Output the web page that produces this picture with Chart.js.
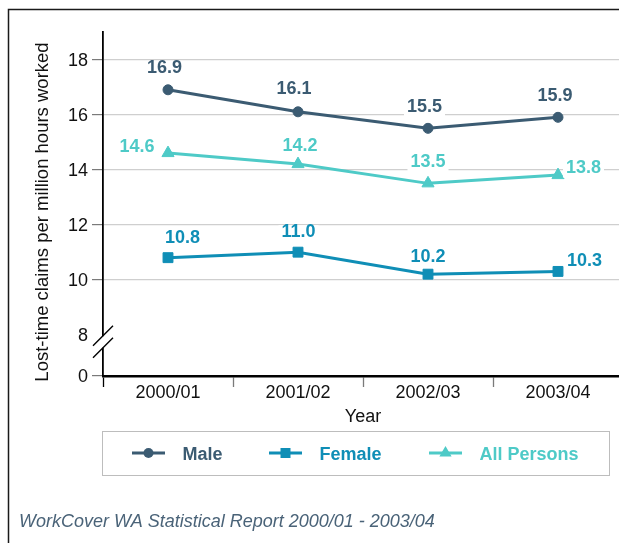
<!DOCTYPE html>
<html>
<head>
<meta charset="utf-8">
<title>Lost-time claims per million hours worked</title>
<script src="https://cdn.jsdelivr.net/npm/chart.js@4.4.1/dist/chart.umd.min.js"></script>
<style>
  html, body { margin: 0; padding: 0; background: #fff; overflow: hidden; }
  #wrap { position: absolute; left: 0; top: 0; width: 640px; height: 543px; }
</style>
</head>
<body>
<div id="wrap"><canvas id="claims"></canvas></div>
<script>
// claims per million hours worked, by financial year
const years = ['2000/01', '2001/02', '2002/03', '2003/04'];
const male = [16.9, 16.1, 15.5, 15.9];
const female = [10.8, 11.0, 10.2, 10.3];
const allPersons = [14.6, 14.2, 13.5, 13.8];
const yTicks = [8, 10, 12, 14, 16, 18];

// the axis is broken: the bottom of the scale is labelled "0"
const AXIS_FLOOR = 6.5;
const AXIS_TOP = 19;

const FONT = '"Liberation Sans", Arial, Helvetica, sans-serif';
const MALE_COLOR = '#3b5b72';
const FEMALE_COLOR = '#0f8eb6';
const ALL_COLOR = '#4ecac7';

function drawMarker(ctx, style, x, y, color) {
  ctx.fillStyle = color;
  ctx.beginPath();
  if (style === 'circle') {
    ctx.arc(x, y, 5, 0, Math.PI * 2);
  } else if (style === 'rect') {
    ctx.rect(x - 5, y - 5, 10, 10);
  } else {
    ctx.moveTo(x, y - 7);
    ctx.lineTo(x - 6.1, y + 3.5);
    ctx.lineTo(x + 6.1, y + 3.5);
    ctx.closePath();
  }
  ctx.fill();
}

// value labels next to each point, on a white patch so grid lines break behind them
const pointLabels = {
  id: 'pointLabels',
  afterDatasetsDraw(chart) {
    const ctx = chart.ctx;
    ctx.save();
    ctx.font = 'bold 18px ' + FONT;
    ctx.textAlign = 'center';
    ctx.textBaseline = 'alphabetic';
    chart.data.datasets.forEach((ds, i) => {
      chart.getDatasetMeta(i).data.forEach((pt, j) => {
        const text = ds.data[j].toFixed(1);
        const [dx, dy] = ds.labelOffsets[j];
        const cx = pt.x + dx;
        const cy = pt.y + dy;
        const w = ctx.measureText(text).width;
        ctx.fillStyle = '#fff';
        ctx.fillRect(cx - w / 2 - 3, cy - 5, w + 6, 16);
        ctx.fillStyle = ds.borderColor;
        ctx.fillText(text, cx, cy + 6.5);
      });
    });
    ctx.restore();
  }
};

// frame, axis titles, axis break, legend box and source note
const decorations = {
  id: 'decorations',
  afterDraw(chart) {
    const ctx = chart.ctx;
    const area = chart.chartArea;
    const yScale = chart.scales.y;
    ctx.save();

    // outer frame (top and left edges)
    ctx.strokeStyle = '#1a1a1a';
    ctx.lineWidth = 1.5;
    ctx.beginPath();
    ctx.moveTo(8.5, chart.height);
    ctx.lineTo(8.5, 9.5);
    ctx.lineTo(chart.width, 9.5);
    ctx.stroke();

    // break marks on the y axis just below 8
    const py = yScale.getPixelForValue(8);
    const ax = area.left;
    ctx.fillStyle = '#fff';
    ctx.fillRect(ax - 3, py + 1.5, 6, 11.5);
    ctx.strokeStyle = '#000';
    ctx.lineWidth = 1.4;
    ctx.beginPath();
    ctx.moveTo(ax - 10, py + 11);
    ctx.lineTo(ax + 10, py - 9);
    ctx.moveTo(ax - 10, py + 23);
    ctx.lineTo(ax + 10, py + 3);
    ctx.stroke();

    // axis titles
    ctx.fillStyle = '#111';
    ctx.font = '18px ' + FONT;
    ctx.textAlign = 'center';
    ctx.textBaseline = 'alphabetic';
    ctx.fillText('Year', (area.left + area.right) / 2, 421.5);
    ctx.save();
    ctx.translate(48, 212);
    ctx.rotate(-Math.PI / 2);
    ctx.font = '18.5px ' + FONT;
    ctx.fillText('Lost-time claims per million hours worked', 0, 0);
    ctx.restore();

    // legend
    ctx.strokeStyle = '#bdbdbd';
    ctx.lineWidth = 1;
    ctx.strokeRect(102.5, 431.5, 507, 44);
    const slots = [132, 269, 429];
    const ly = 453;
    ctx.font = 'bold 18px ' + FONT;
    ctx.textAlign = 'left';
    chart.data.datasets.forEach((ds, i) => {
      const x0 = slots[i];
      ctx.strokeStyle = ds.borderColor;
      ctx.lineWidth = 3;
      ctx.beginPath();
      ctx.moveTo(x0, ly);
      ctx.lineTo(x0 + 33, ly);
      ctx.stroke();
      drawMarker(ctx, ds.pointStyle, x0 + 16.5, ly, ds.borderColor);
      ctx.fillStyle = ds.borderColor;
      ctx.fillText(ds.label, x0 + 50.5, ly + 6.5);
    });

    // source note
    ctx.fillStyle = '#4a6378';
    ctx.font = 'italic 18px ' + FONT;
    ctx.fillText('WorkCover WA Statistical Report 2000/01 - 2003/04', 19, 527);

    ctx.restore();
  }
};

new Chart(document.getElementById('claims'), {
  type: 'line',
  data: {
    labels: years,
    datasets: [
      {
        label: 'Male',
        data: male,
        borderColor: MALE_COLOR,
        backgroundColor: MALE_COLOR,
        pointStyle: 'circle',
        pointRadius: 5,
        labelOffsets: [[-3.5, -23.5], [-4, -24], [-3.5, -23], [-3, -23]]
      },
      {
        label: 'Female',
        data: female,
        borderColor: FEMALE_COLOR,
        backgroundColor: FEMALE_COLOR,
        pointStyle: 'rect',
        pointRadius: 7,
        labelOffsets: [[14.5, -21], [0.5, -22], [0, -18.5], [26.5, -12]]
      },
      {
        label: 'All Persons',
        data: allPersons,
        borderColor: ALL_COLOR,
        backgroundColor: ALL_COLOR,
        pointStyle: 'triangle',
        pointRadius: 7,
        labelOffsets: [[-31, -8], [2, -20], [0, -23], [25.5, -8.5]]
      }
    ].map(ds => Object.assign({
      borderWidth: 3,
      pointBorderWidth: 1,
      pointBackgroundColor: ds.borderColor,
      pointBorderColor: ds.borderColor,
      tension: 0,
      clip: false
    }, ds))
  },
  options: {
    responsive: true,
    maintainAspectRatio: false,
    animation: false,
    events: [],
    layout: { padding: { left: 0, top: 32, right: 17, bottom: 0 } },
    plugins: {
      legend: { display: false },
      tooltip: { enabled: false }
    },
    scales: {
      x: {
        type: 'category',
        offset: true,
        grid: {
          offset: true,
          drawOnChartArea: false,
          drawTicks: true,
          tickLength: 11,
          tickWidth: 1.3,
          tickColor: c => c.index === 0 ? '#000' : '#7a7a7a'
        },
        border: { color: '#000', width: 2.5 },
        ticks: {
          color: '#111',
          font: { family: FONT, size: 18 },
          padding: -5,
          maxRotation: 0,
          autoSkip: false
        },
        afterFit(scale) { scale.height = 167; }
      },
      y: {
        type: 'linear',
        min: AXIS_FLOOR,
        max: AXIS_TOP,
        afterBuildTicks(scale) {
          scale.ticks = [AXIS_FLOOR].concat(yTicks).map(value => ({ value }));
        },
        grid: {
          color: c => (c.tick && c.tick.value > 9) ? '#cfcfcf' : 'rgba(0,0,0,0)',
          lineWidth: 1.2,
          tickLength: 11,
          tickWidth: 1.2,
          tickColor: c => (c.tick && c.tick.value === 8) ? 'rgba(0,0,0,0)' : '#7a7a7a'
        },
        border: { color: '#000', width: 1.8 },
        ticks: {
          color: '#111',
          font: { family: FONT, size: 18 },
          padding: 4,
          labelOffset: 1.5,
          callback: value => value === AXIS_FLOOR ? '0' : String(value)
        },
        afterFit(scale) { scale.width = 103; }
      }
    }
  },
  plugins: [pointLabels, decorations]
});
</script>
</body>
</html>
